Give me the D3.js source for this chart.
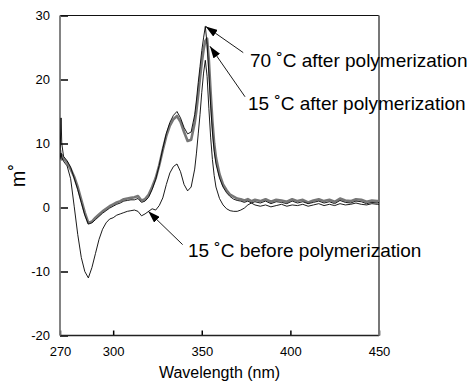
<!DOCTYPE html>
<html>
<head>
<meta charset="utf-8">
<script src="https://cdn.jsdelivr.net/npm/d3@7"></script>
<style>
  body { margin: 0; background: #fff; }
  svg text { font-family: "Liberation Sans", Arial, sans-serif; }
</style>
</head>
<body>
<div id="chart"></div>
<script>
// wavelength (nm)
var wl = [270, 270.6, 271, 272, 274, 276, 278, 280, 282, 284, 286, 288, 290, 292, 294, 296, 298,
  300, 302, 304, 306, 308, 310, 312, 314, 316, 318, 320, 322, 324, 326, 328, 330, 332, 334, 336,
  338, 340, 342, 344, 346, 347, 348, 349, 350, 351, 352, 353, 354, 355, 356, 357, 358, 360, 362,
  364, 366, 368, 370, 372, 374, 376, 378, 380, 383, 386, 389, 392, 395, 398, 401, 404, 407, 410,
  413, 416, 419, 422, 425, 428, 431, 434, 437, 440, 443, 446, 449, 450];

// 15 C after polymerization (thick grey)
var after15 = [9, 7.5, 8.2, 7.6, 7.0, 6.0, 4.8, 3.2, 1.2, -0.8, -2.4, -2.2, -1.6, -1.1, -0.6, -0.2, 0.2,
  0.5, 0.8, 1.0, 1.3, 1.4, 1.5, 1.6, 1.8, 1.1, 1.3, 2.0, 3.2, 4.6, 6.6, 9.0, 11.2, 12.8, 13.8, 14.3,
  13.4, 11.8, 10.4, 10.6, 13.2, 15.2, 17.6, 20.2, 22.6, 24.6, 26.0, 26.4, 23.0, 18.0, 13.5, 10.0, 7.8, 5.2, 3.6,
  2.7, 2.0, 1.7, 1.4, 1.3, 1.1, 1.3, 1.0, 1.2, 1.0, 1.3, 0.9, 1.2, 1.1, 0.9, 1.3, 1.0, 1.2, 0.8,
  1.1, 1.3, 1.0, 1.2, 0.9, 1.4, 1.1, 1.0, 1.3, 1.2, 0.9, 1.1, 1.0, 1.0];

// 70 C after polymerization (thin black)
var after70 = [8, 14, 10, 8, 7.3, 6.3, 4.6, 2.8, 0.8, -1.2, -2.6, -2.4, -1.9, -1.4, -0.9, -0.5, -0.1,
  0.2, 0.5, 0.7, 1.0, 1.1, 1.2, 1.2, 1.4, 0.8, 1.0, 1.6, 2.8, 4.4, 6.6, 9.2, 11.6, 13.3, 14.4, 15.0,
  14.0, 12.5, 11.5, 11.8, 14.5, 16.8, 19.5, 22.0, 24.5, 26.5, 28.3, 25.5, 21.0, 16.0, 11.8, 8.8, 6.8, 4.6, 3.2,
  2.3, 1.7, 1.3, 1.1, 1.0, 0.8, 1.0, 0.7, 0.9, 0.7, 1.0, 0.6, 0.9, 0.8, 0.6, 1.0, 0.7, 0.9, 0.6,
  0.8, 1.0, 0.7, 0.9, 0.6, 1.1, 0.8, 0.7, 1.0, 0.9, 0.6, 0.8, 0.7, 0.8];

// 15 C before polymerization (thin black)
var before15 = [7.5, 8.5, 7.8, 7.2, 6.5, 4.5, 0.2, -4.2, -7.8, -10.0, -11.0, -9.4, -7.2, -5.0, -3.4, -2.4, -1.8,
  -1.6, -1.2, -1.0, -0.8, -0.6, -0.5, -0.4, -0.6, -1.3, -1.0, -0.6, -0.2, -0.4, 0.3, 1.5, 3.6, 5.4, 6.4, 6.8,
  5.6, 3.6, 2.6, 3.2, 6.0, 8.5, 11.5, 14.5, 18.0, 21.0, 23.0, 20.5, 15.5, 11.0, 7.5, 5.0, 3.2, 1.4, 0.4,
  -0.2, -0.5, -0.6, -0.6, -0.4, -0.1, 0.4, 0.7, 0.4, 0.2, 0.4, 0.1, 0.3, 0.5, 0.2, 0.4, 0.3, 0.5, 0.2,
  0.4, 0.6, 0.3, 0.5, 0.3, 0.6, 0.4, 0.5, 0.7, 0.5, 0.4, 0.6, 0.5, 0.5];

var xTicks = [270, 300, 350, 400, 450];
var yTicks = [-20, -10, 0, 10, 20, 30];

// annotations: arrow tip, arrow tail and label anchor, in data units
var labels = ["70 \u02DAC after polymerization", "15 \u02DAC after polymerization", "15 \u02DAC before polymerization"];
var tips = [[352.2, 28.3], [354.6, 25.2], [319.8, -0.6]];
var tails = [[373.4, 24.2], [374.4, 17.3], [339.2, -5.8]];
var textAt = [[377.2, 22.0], [376.1, 15.3], [342.2, -7.7]];

var margin = {top: 15.5, right: 94, bottom: 45.5, left: 60},
  width = 473 - margin.left - margin.right,
  height = 381 - margin.top - margin.bottom;

var svg = d3.select("#chart")
  .append("svg")
    .attr("width", 473)
    .attr("height", 381)
  .append("g")
    .attr("transform", "translate(" + margin.left + "," + margin.top + ")");

var x = d3.scaleLinear().domain([270, 450]).range([0, width]);
var y = d3.scaleLinear().domain([-20, 30]).range([height, 0]);

svg.append("defs").append("clipPath").attr("id", "clip")
  .append("rect").attr("width", width).attr("height", height);

// axes, ticks point inward, plain hyphen for negatives
var fmt = function(d) { return String(d); };
var yAxis = svg.append("g")
  .call(d3.axisLeft(y).tickValues(yTicks).tickFormat(fmt).tickSize(-8).tickSizeOuter(0).tickPadding(10));
var xAxis = svg.append("g")
  .attr("transform", "translate(0," + height + ")")
  .call(d3.axisBottom(x).tickValues(xTicks).tickFormat(fmt).tickSize(-5).tickSizeOuter(0).tickPadding(11));
[xAxis, yAxis].forEach(function(a) {
  a.select(".domain").remove();
  a.selectAll("line").attr("stroke", "#000").attr("stroke-width", 1.5);
  a.selectAll("text").attr("font-size", 13).attr("fill", "#000");
});

// frame
svg.append("line").attr("x1", 0).attr("x2", width).attr("y1", 0).attr("y2", 0)
  .attr("stroke", "#111").attr("stroke-width", 1.2);
svg.append("line").attr("x1", 0).attr("x2", width).attr("y1", height).attr("y2", height)
  .attr("stroke", "#222").attr("stroke-width", 1.5);
svg.append("line").attr("x1", 0).attr("x2", 0).attr("y1", 0).attr("y2", height)
  .attr("stroke", "#777").attr("stroke-width", 1.8);
svg.append("line").attr("x1", width).attr("x2", width).attr("y1", 0).attr("y2", height)
  .attr("stroke", "#777").attr("stroke-width", 2);

var line = function(vals) {
  return d3.line()
    .x(function(d, i) { return x(wl[i]); })
    .y(function(d) { return y(d); })(vals);
};

var plot = svg.append("g").attr("clip-path", "url(#clip)");
plot.append("path").attr("d", line(after15))
  .attr("fill", "none").attr("stroke", "#777").attr("stroke-width", 2.6).attr("stroke-linejoin", "round");
plot.append("path").attr("d", line(after70))
  .attr("fill", "none").attr("stroke", "#000").attr("stroke-width", 0.9);
plot.append("path").attr("d", line(before15))
  .attr("fill", "none").attr("stroke", "#000").attr("stroke-width", 0.9);

// arrows
svg.select("defs").append("marker")
  .attr("id", "head")
  .attr("viewBox", "0 0 12 8")
  .attr("refX", 12).attr("refY", 4)
  .attr("markerWidth", 12).attr("markerHeight", 8)
  .attr("markerUnits", "userSpaceOnUse")
  .attr("orient", "auto")
  .append("path").attr("d", "M0,0 L12,4 L0,8 Z").attr("fill", "#000");

labels.forEach(function(t, i) {
  svg.append("line")
    .attr("x1", x(tails[i][0])).attr("y1", y(tails[i][1]))
    .attr("x2", x(tips[i][0])).attr("y2", y(tips[i][1]))
    .attr("stroke", "#000").attr("stroke-width", 0.9)
    .attr("marker-end", "url(#head)");
  svg.append("text")
    .attr("x", x(textAt[i][0])).attr("y", y(textAt[i][1]))
    .attr("font-size", 19).attr("fill", "#000")
    .text(t);
});

// axis titles
svg.append("text")
  .attr("x", width / 2).attr("y", height + 42.5)
  .attr("text-anchor", "middle").attr("font-size", 16)
  .text("Wavelength (nm)");
svg.append("text")
  .attr("transform", "translate(-35," + (height / 2) + ") rotate(-90)")
  .attr("text-anchor", "middle").attr("font-size", 20)
  .text("m\u02DA");
</script>
</body>
</html>
